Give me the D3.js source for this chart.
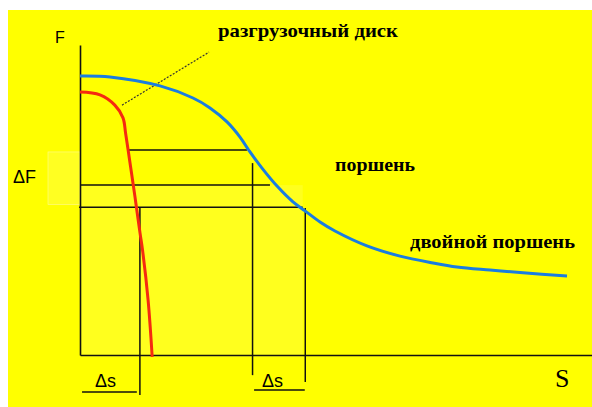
<!DOCTYPE html>
<html>
<head>
<meta charset="utf-8">
<script src="https://cdn.jsdelivr.net/npm/d3@7"></script>
<style>
  body { margin: 0; background: #fff; }
  svg { display: block; }
</style>
</head>
<body>
<svg id="chart" width="592" height="407"></svg>
<script>
// curve values, s and F in % of axis length
var pistonS   = [0, 5.86, 15.63, 22.07, 25.39, 28.71, 31.25, 33.20, 35.55, 38.48, 41.60, 43.95, 46.88, 49.80, 56.05, 62.50, 68.95, 73.63, 80.08, 86.52, 95.12];
var pistonF   = [90.0, 89.7, 86.8, 82.9, 79.7, 75.2, 70.3, 65.5, 60.3, 54.5, 49.4, 46.5, 42.9, 40.0, 35.2, 31.9, 29.7, 28.4, 27.4, 26.5, 25.5];
var discS     = [0, 3.9, 6.8, 8.4, 8.9, 9.4, 10.06, 10.74, 11.04, 11.72, 12.21, 13.3, 14.1];
var discF     = [84.8, 83.9, 80.6, 76.5, 71.6, 66.1, 58.7, 51.0, 47.4, 39.4, 33.9, 17.7, -0.6];

// construction lines: [s1, F1, s2, F2]
var levelLines  = [[9.4, 66.1, 32.6, 66.1], [0, 54.8, 37.1, 54.8], [-0.2, 47.7, 43.5, 47.7]];
var dropLines   = [[11.7, 47.7, 11.7, -12.9], [33.7, 61.9, 33.7, -6.5], [44.0, 47.4, 44.0, -8.7]];
var underLines  = [[0.4, -11.9, 11.1, -11.9], [34.0, -11.3, 43.9, -11.3]];
var leaderLine  = [8.2, 80.6, 25.2, 97.7];

var curveNames = ["разгрузочный диск", "поршень", "двойной поршень"];

var svg = d3.select("#chart");

var x = d3.scaleLinear().domain([0, 100]).range([80, 592]);
var y = d3.scaleLinear().domain([0, 100]).range([355, 45]);

// background
svg.append("rect").attr("x", 8).attr("y", 10).attr("width", 584).attr("height", 397).attr("fill", "#ffff00");
svg.append("rect").attr("x", x(0)).attr("y", y(54.8)).attr("width", x(43.5) - x(0)).attr("height", y(-0.6) - y(54.8))
  .attr("fill", "#ffff1e");
svg.append("rect").attr("x", 48).attr("y", y(65.5)).attr("width", x(0) - 48).attr("height", y(48.5) - y(65.5))
  .attr("fill", "#ffff22").attr("stroke", "#fffa90").attr("stroke-width", 0.6);

// axes (no ticks, only the domain line)
svg.append("g").attr("transform", "translate(0," + y(0) + ")")
  .call(d3.axisBottom(x).tickValues([]).tickSizeOuter(0))
  .call(function(g){ g.select(".domain").attr("stroke", "#111").attr("stroke-width", 1.6); });
svg.append("g").attr("transform", "translate(" + x(0) + ",0)")
  .call(d3.axisLeft(y).tickValues([]).tickSizeOuter(0))
  .call(function(g){ g.select(".domain").attr("stroke", "#111").attr("stroke-width", 1.6); });

// construction lines
var seg = levelLines.concat(dropLines, underLines);
svg.append("g").selectAll("line").data(seg).enter().append("line")
  .attr("x1", function(d){ return x(d[0]); })
  .attr("y1", function(d){ return y(d[1]); })
  .attr("x2", function(d){ return x(d[2]); })
  .attr("y2", function(d){ return y(d[3]); })
  .attr("stroke", "#111").attr("stroke-width", 1.5);

svg.append("line")
  .attr("x1", x(leaderLine[0])).attr("y1", y(leaderLine[1]))
  .attr("x2", x(leaderLine[2])).attr("y2", y(leaderLine[3]))
  .attr("stroke", "#333").attr("stroke-width", 1.2).attr("stroke-dasharray", "2,1.5");

// curves
var line = d3.line()
  .x(function(d){ return x(d[0]); })
  .y(function(d){ return y(d[1]); })
  .curve(d3.curveCatmullRom.alpha(0.5));

svg.append("path").datum(d3.zip(pistonS, pistonF))
  .attr("d", line).attr("fill", "none").attr("stroke", "#1a7de0").attr("stroke-width", 3);
svg.append("path").datum(d3.zip(discS, discF))
  .attr("d", line).attr("fill", "none").attr("stroke", "#f52a10").attr("stroke-width", 3);

// labels
var serif = "'Liberation Serif', 'DejaVu Serif', serif";
var sans = "'Liberation Sans', Arial, sans-serif";

svg.append("text").attr("x", 218).attr("y", 37).text(curveNames[0])
  .attr("font-family", serif).attr("font-weight", "bold").attr("font-size", 19)
  .attr("textLength", 180).attr("lengthAdjust", "spacingAndGlyphs");
svg.append("text").attr("x", 335).attr("y", 171).text(curveNames[1])
  .attr("font-family", serif).attr("font-weight", "bold").attr("font-size", 18)
  .attr("textLength", 80).attr("lengthAdjust", "spacingAndGlyphs");
svg.append("text").attr("x", 410).attr("y", 248).text(curveNames[2])
  .attr("font-family", serif).attr("font-weight", "bold").attr("font-size", 18)
  .attr("textLength", 165).attr("lengthAdjust", "spacingAndGlyphs");

svg.append("text").attr("x", 55).attr("y", 43).text("F")
  .attr("font-family", sans).attr("font-size", 16);
svg.append("text").attr("x", 13).attr("y", 183).text("ΔF")
  .attr("font-family", sans).attr("font-size", 18);
svg.append("text").attr("x", 95).attr("y", 387).text("Δs")
  .attr("font-family", sans).attr("font-size", 18);
svg.append("text").attr("x", 262).attr("y", 387).text("Δs")
  .attr("font-family", sans).attr("font-size", 18);
svg.append("text").attr("x", 555).attr("y", 387).text("S")
  .attr("font-family", serif).attr("font-size", 26);
</script>
</body>
</html>
